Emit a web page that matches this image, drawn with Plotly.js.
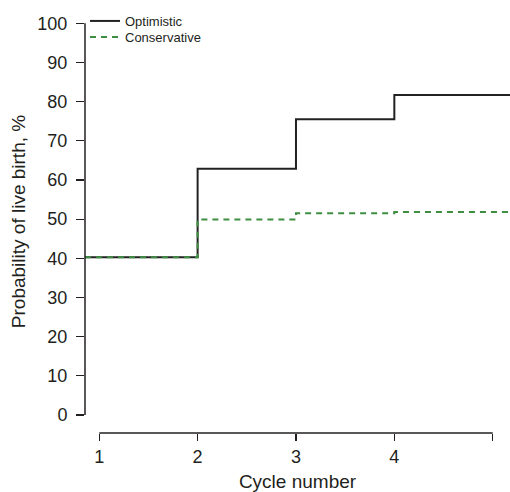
<!DOCTYPE html>
<html>
<head>
<meta charset="utf-8">
<script src="https://cdn.plot.ly/plotly-3.0.1.min.js"></script>
<style>html,body{margin:0;padding:0;background:#fff;}#chart{width:510px;height:492px;}</style>
</head>
<body>
<div id="chart"></div>
<script>
// Data
var cycles = [1, 2, 3, 4];
var optimistic = [40.3, 62.9, 75.5, 81.7];
var conservative = [40.3, 49.9, 51.5, 51.8];
var seriesNames = ['Optimistic', 'Conservative'];
var xTickVals = [1, 2, 3, 4, 5];
var xTickText = ['1', '2', '3', '4', ''];
var yTickVals = [0, 10, 20, 30, 40, 50, 60, 70, 80, 90, 100];

var xRange = [0.855, 5.176];
var yRange = [-4.6, 103.4];
var ink = '#231f20';

function stepX() {
  var xs = [xRange[0]];
  for (var i = 1; i < cycles.length; i++) xs.push(cycles[i]);
  xs.push(xRange[1]);
  return xs;
}
function stepY(v) { return v.concat([v[v.length - 1]]); }

var traces = [
  {
    x: stepX(), y: stepY(optimistic), name: seriesNames[0], type: 'scatter', mode: 'lines',
    line: {shape: 'hv', color: '#222222', width: 2}, hoverinfo: 'skip', legend: 'legend'
  },
  {
    x: stepX(), y: stepY(conservative), name: seriesNames[1], type: 'scatter', mode: 'lines',
    line: {shape: 'hv', color: '#3e8e41', width: 2, dash: '6px,5px'}, hoverinfo: 'skip', legend: 'legend2'
  }
];

var legendBase = {
  x: 0, xanchor: 'left', yanchor: 'top',
  bgcolor: 'rgba(0,0,0,0)', font: {size: 13, color: ink},
  itemwidth: 30
};

var layout = {
  width: 510, height: 492,
  margin: {l: 85, r: 0, t: 10, b: 59},
  paper_bgcolor: '#ffffff', plot_bgcolor: '#ffffff',
  font: {family: '"Liberation Sans", Arial, sans-serif', color: ink, size: 18},
  showlegend: true,
  legend: Object.assign({}, legendBase, {y: 1.0095}),
  legend2: Object.assign({}, legendBase, {y: 0.9716}),
  xaxis: {
    range: xRange, showgrid: false, zeroline: false, showline: false,
    tickmode: 'array', tickvals: xTickVals, ticktext: xTickText,
    ticks: 'outside', ticklen: 7, tickwidth: 1.2, tickcolor: ink,
    tickfont: {size: 18, color: ink},
    title: {text: 'Cycle number', font: {size: 19, color: ink}, standoff: 9}
  },
  yaxis: {
    range: yRange, showgrid: false, zeroline: false, showline: false,
    tickmode: 'array', tickvals: yTickVals,
    ticks: 'outside', ticklen: 8, tickwidth: 1.2, tickcolor: ink,
    ticklabelstandoff: 5,
    tickfont: {size: 18, color: ink},
    title: {text: 'Probability of live birth, %', font: {size: 19, color: ink}, standoff: 6}
  },
  shapes: [
    {type: 'line', xref: 'paper', yref: 'y', x0: 0, x1: 0, y0: yTickVals[0], y1: yTickVals[yTickVals.length - 1],
     line: {color: ink, width: 1.5}},
    {type: 'line', xref: 'x', yref: 'paper', x0: xTickVals[0], x1: xTickVals[xTickVals.length - 1], y0: 0, y1: 0,
     line: {color: ink, width: 1.5}}
  ]
};

Plotly.newPlot('chart', traces, layout, {displayModeBar: false, staticPlot: true});
</script>
</body>
</html>
